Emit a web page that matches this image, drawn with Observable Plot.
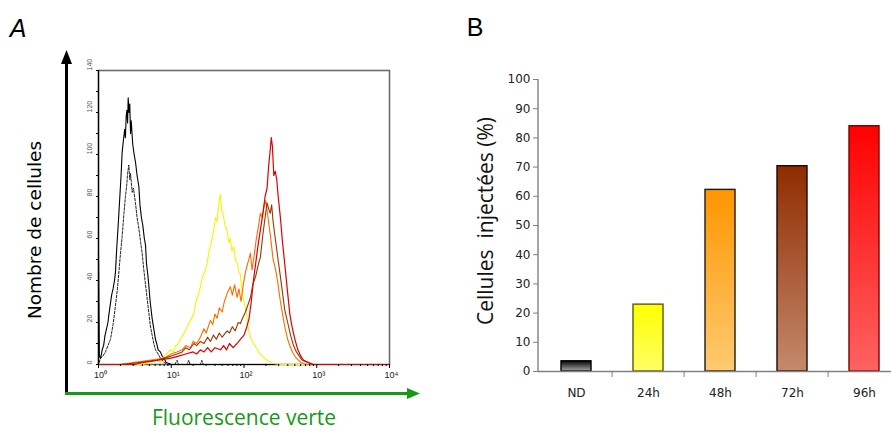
<!DOCTYPE html>
<html><head><meta charset="utf-8">
<script src="https://cdn.jsdelivr.net/npm/d3@7"></script>
<script src="https://cdn.jsdelivr.net/npm/@observablehq/plot@0.6"></script>
<style>
html,body{margin:0;padding:0;background:#fff;overflow:hidden;}
#fig{position:relative;width:891px;height:433px;overflow:hidden;background:#fff;}
#fig > svg{position:absolute;top:0;}
</style></head><body><div id="fig"></div>
<script>
// ---------- Panel A data: flow cytometry histograms [log10(fluorescence), count] ----------
const ndSolid = [[0,53],[0.012,4],[0.03,3],[0.05,7],[0.07,9],[0.09,14],[0.11,17],[0.13,20],[0.14,23],[0.16,28],[0.18,33],[0.2,36],[0.22,40],[0.233,44],[0.25,55],[0.27,66],[0.29,78],[0.31,90],[0.325,101],[0.34,106],[0.36,112],[0.37,108],[0.38,118],[0.39,121],[0.4,115],[0.408,127],[0.42,120],[0.43,124],[0.44,110],[0.45,116],[0.47,105],[0.49,100],[0.51,96],[0.53,90],[0.554,85],[0.57,76],[0.59,70],[0.61,66],[0.63,60],[0.646,57],[0.66,48],[0.68,42],[0.691,38],[0.71,30],[0.737,22],[0.76,17],[0.783,12],[0.8,10],[0.82,7],[0.85,6],[0.875,4],[0.9,3],[0.93,1],[0.97,0.5],[1.0,0],[4,0]];
const ndDashed = [[0.01,1],[0.027,3],[0.06,4],[0.096,6],[0.13,9],[0.165,12],[0.2,19],[0.233,28],[0.26,36],[0.28,44],[0.3,52],[0.325,61],[0.35,72],[0.37,80],[0.39,86],[0.4,91],[0.417,95],[0.43,88],[0.44,91],[0.463,82],[0.48,84],[0.508,77],[0.53,70],[0.554,65],[0.58,58],[0.6,53],[0.62,46],[0.646,38],[0.67,31],[0.691,25],[0.71,19],[0.737,14],[0.76,10],[0.783,7],[0.82,5],[0.852,3],[0.9,1],[0.95,0],[1.05,0],[1.08,2],[1.1,0],[1.22,0],[1.24,2],[1.26,0],[1.4,0],[1.42,2],[1.44,0],[2,0]];
const h24 = [[0,0],[0.6,0],[0.7,1],[0.8,2],[0.85,1],[0.897,4],[0.94,5],[0.989,7],[1.03,6],[1.06,9],[1.1,10],[1.126,12],[1.16,14],[1.19,16],[1.218,18],[1.25,20],[1.28,22],[1.309,24],[1.34,30],[1.37,33],[1.401,37],[1.43,42],[1.46,44],[1.493,48],[1.52,54],[1.55,58],[1.584,64],[1.61,70],[1.63,68],[1.65,76],[1.676,81],[1.69,74],[1.71,72],[1.74,66],[1.768,64],[1.79,58],[1.81,60],[1.835,54],[1.859,56],[1.88,50],[1.91,48],[1.93,44],[1.95,43],[1.975,34],[2.0,30],[2.02,27],[2.04,22],[2.065,16],[2.1,12],[2.13,10],[2.17,8],[2.22,5],[2.28,3],[2.34,1.5],[2.4,0.5],[2.5,0],[4,0]];
const h48 = [[0,0],[0.3,0],[0.5,1],[0.7,2],[0.9,3],[1.0,5],[1.08,6],[1.15,7],[1.2,9],[1.264,8],[1.3,11],[1.35,10],[1.4,13],[1.45,17],[1.48,15],[1.538,21],[1.57,19],[1.6,24],[1.63,22],[1.66,27],[1.7,25],[1.73,30],[1.77,34],[1.813,37],[1.84,33],[1.87,38],[1.905,32],[1.93,36],[1.96,30],[1.99,38],[2.02,44],[2.05,48],[2.088,53],[2.11,45],[2.14,52],[2.17,60],[2.2,66],[2.225,72],[2.25,70],[2.28,76],[2.3,78],[2.33,70],[2.36,62],[2.38,56],[2.4,50],[2.43,46],[2.46,40],[2.5,30],[2.53,24],[2.56,18],[2.6,12],[2.64,8],[2.68,5],[2.72,3],[2.78,1],[2.85,0],[4,0]];
const h72 = [[0,0],[0.3,0],[0.6,1],[0.8,2],[1.0,4],[1.08,5],[1.15,6],[1.2,8],[1.25,7],[1.31,10],[1.35,9],[1.4,11],[1.45,10],[1.5,13],[1.538,11],[1.58,14],[1.62,12],[1.66,15],[1.7,13],[1.768,16],[1.8,15],[1.84,18],[1.88,16],[1.92,20],[1.95,19.5],[1.98,22],[2.02,25],[2.05,28],[2.09,32],[2.12,38],[2.16,42],[2.2,48],[2.225,51],[2.26,62],[2.29,70],[2.317,77],[2.34,74],[2.36,72],[2.38,76],[2.4,68],[2.43,60],[2.46,52],[2.5,42],[2.53,34],[2.56,26],[2.6,20],[2.64,14],[2.68,9],[2.72,6],[2.76,4],[2.8,2],[2.88,1],[2.95,0],[4,0]];
const h96 = [[0,0],[0.5,0],[0.6,1],[0.8,2],[1.0,3],[1.1,4],[1.2,5],[1.3,6],[1.35,5],[1.4,7],[1.45,6],[1.5,8],[1.55,6],[1.6,8],[1.676,7],[1.72,9],[1.76,7],[1.8,10],[1.85,8],[1.905,10],[1.95,12],[2.0,14],[2.04,18],[2.07,22],[2.1,30],[2.13,40],[2.16,48],[2.19,56],[2.225,64],[2.26,72],[2.29,80],[2.317,84],[2.34,95],[2.36,102],[2.375,108],[2.39,104],[2.41,90],[2.43,92],[2.45,88],[2.47,80],[2.5,70],[2.53,58],[2.56,48],[2.6,34],[2.63,24],[2.66,18],[2.7,12],[2.74,7],[2.78,4],[2.82,2],[2.88,1],[2.95,0],[4,0]];

const majorTicksA = [1, 10, 100, 1000, 10000];
const xTickLabelsA = ["10⁰", "10¹", "10²", "10³", "10⁴"];
const yTicksA = [0, 20, 40, 60, 80, 100, 120, 140];

// ---------- Panel B data ----------
const categories = ["ND", "24h", "48h", "72h", "96h"];
const percents = [3.5, 22.9, 62.2, 70.3, 84.0];
const yTicksB = [0, 10, 20, 30, 40, 50, 60, 70, 80, 90, 100];

// ---------- styles ----------
const barGradients = [["#000000","#a8a8a8"],["#ffff00","#ffff66"],["#ff9500","#ffca70"],["#8f2c00","#c4896c"],["#ff0000","#ff6262"]];
const barStrokes = ["#000000","#5a5a00","#1a1a1a","#1a0800","#7a0000"];

const fig = document.getElementById("fig");
const rows = pairs => pairs.map(([l, n]) => ({fl: Math.pow(10, l), n}));
const minorTicksA = d3.range(0, 4).flatMap(k => d3.range(2, 10).map(m => m * Math.pow(10, k)));

const wA = 420, mlA = 98, mrA = 31;
const plotA = Plot.plot({
  width: wA, height: 433,
  marginLeft: mlA, marginRight: mrA, marginTop: 70, marginBottom: 69,
  style: {fontFamily: "Liberation Sans, Arial, sans-serif", background: "transparent"},
  x: {type: "log", domain: [1, 10000], axis: null},
  y: {domain: [0, 140], axis: null},
  marks: [
    Plot.frame({stroke: "#6b6b6b", strokeWidth: 1.6}),
    Plot.line(rows(ndDashed), {x: "fl", y: "n", stroke: "#222", strokeWidth: 1, strokeDasharray: "2.5,1.5"}),
    Plot.line(rows(ndSolid), {x: "fl", y: "n", stroke: "#000", strokeWidth: 1.1}),
    Plot.line(rows(h24), {x: "fl", y: "n", stroke: "#f5f500", strokeWidth: 1.1}),
    Plot.line(rows(h48), {x: "fl", y: "n", stroke: "#ff6a00", strokeWidth: 1.1}),
    Plot.line(rows(h72), {x: "fl", y: "n", stroke: "#9a3600", strokeWidth: 1.1}),
    Plot.line(rows(h96), {x: "fl", y: "n", stroke: "#e00000", strokeWidth: 1.2}),
    Plot.ruleX([1], {stroke: "#000", strokeWidth: 1.2}),
    Plot.axisX(minorTicksA, {tickSize: 2, tickFormat: () => "", label: null, color: "#000"}),
    Plot.axisX(majorTicksA, {tickSize: 4, tickFormat: () => "", label: null, color: "#000"}),
    Plot.text(majorTicksA, {x: d => d, text: d => xTickLabelsA[majorTicksA.indexOf(d)], frameAnchor: "bottom", dy: 13, dx: 2, fontSize: 9, fill: "#222"}),
    Plot.axisY(d3.range(0, 141, 10), {tickSize: 2, tickFormat: () => "", label: null, color: "#000"}),
    Plot.text(yTicksA, {y: d => d, text: d => String(d), frameAnchor: "left", rotate: -90, dx: -9, fontSize: 7, fill: "#555"})
  ]
});
plotA.style.left = "0px";
fig.appendChild(plotA);

const wB = 442, mlB = 78, mrB = 0;
const slotB = (wB - mlB - mrB) / categories.length;
const barRows = categories.map((c, i) => ({cat: c, pct: percents[i], i}));
const plotB = Plot.plot({
  width: wB, height: 433,
  marginLeft: mlB, marginRight: mrB, marginTop: 79, marginBottom: 62,
  style: {fontFamily: "DejaVu Sans, Verdana, sans-serif", fontSize: "12px", background: "transparent", maxWidth: "none"},
  x: {domain: categories, paddingInner: 0.59, paddingOuter: 0.295, axis: null},
  y: {domain: [0, 100], axis: null},
  color: {type: "identity"},
  marks: [
    Plot.barY(barRows, {x: "cat", y: "pct", fill: d => `url(#barGrad${d.i})`, stroke: d => barStrokes[d.i], strokeWidth: 1.4}),
    Plot.ruleY([0], {stroke: "#808080", strokeWidth: 1.4}),
    Plot.axisY(yTicksB, {tickSize: 5, tickFormat: () => "", label: null, color: "#808080"}),
    Plot.axisY(yTicksB, {tickSize: 0, tickPadding: 8, label: null, color: "#222", fontSize: 12}),
    Plot.axisX(categories.slice(1), {tickSize: 6, dx: -slotB / 2, tickFormat: () => "", label: null, color: "#808080"}),
    Plot.axisX(categories, {tickSize: 0, tickPadding: 17, label: null, color: "#222", fontSize: 12})
  ]
});
plotB.style.left = "460px";
const svgB = d3.select(plotB);
const defs = svgB.insert("defs", ":first-child");
barGradients.forEach((g, i) => {
  const lg = defs.append("linearGradient").attr("id", `barGrad${i}`).attr("x1", 0).attr("y1", 0).attr("x2", 0).attr("y2", 1);
  lg.append("stop").attr("offset", 0).attr("stop-color", g[0]);
  lg.append("stop").attr("offset", 1).attr("stop-color", g[1]);
});
const xr = plotB.scale("x").range, yr = plotB.scale("y").range;
svgB.append("line").attr("x1", xr[0]).attr("x2", xr[0]).attr("y1", yr[0]).attr("y2", yr[1])
  .attr("stroke", "#808080").attr("stroke-width", 1.4);
fig.appendChild(plotB);

// ---------- decorations: axis arrows of panel A ----------
const deco = d3.create("svg").attr("width", 891).attr("height", 433).style("left", "0px").style("pointer-events", "none");
deco.append("line").attr("x1", 66.5).attr("x2", 66.5).attr("y1", 395).attr("y2", 62).attr("stroke", "#000").attr("stroke-width", 3);
deco.append("path").attr("d", "M61,64 L66.5,50 L72,64 Z").attr("fill", "#000");
deco.append("line").attr("x1", 65).attr("x2", 410).attr("y1", 393.5).attr("y2", 393.5).attr("stroke", "#159a15").attr("stroke-width", 3);
deco.append("path").attr("d", "M407,388 L420,393.5 L407,399 Z").attr("fill", "#159a15");
fig.appendChild(deco.node());

function label(text, x, y, css, rotate) {
  const d = document.createElement("div");
  d.textContent = text;
  d.style.cssText = `position:absolute;left:${x}px;top:${y}px;transform:translate(-50%,-50%)${rotate ? ` rotate(${rotate}deg)` : ""};white-space:pre;line-height:1.2;` + css;
  fig.appendChild(d);
}
label("A", 18, 28, "font-family:'Liberation Sans Narrow','Liberation Sans',sans-serif;font-style:italic;font-size:25px;color:#000;");
label("B", 475, 27, "font-family:'Liberation Sans Narrow','Liberation Sans',sans-serif;font-size:25px;color:#000;");
label("Nombre de cellules", 35, 230, "font-family:'DejaVu Sans',sans-serif;font-size:18.5px;color:#000;", -90);
label("Fluorescence verte", 244, 418, "font-family:'Open Sans',sans-serif;font-size:21px;color:#159a15;");
label("Cellules  injectées (%)", 486, 221, "font-family:'Open Sans',sans-serif;font-size:21px;color:#111;", -90);
</script>
</body></html>
